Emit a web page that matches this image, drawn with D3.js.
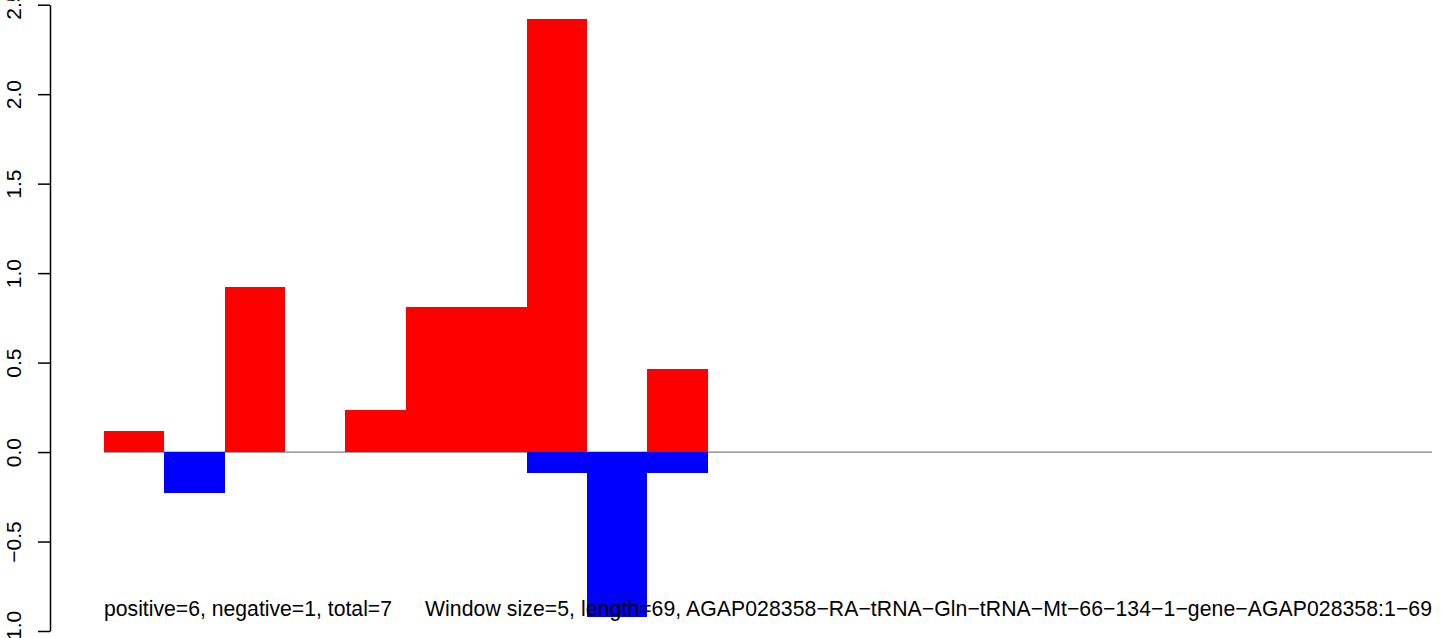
<!DOCTYPE html>
<html>
<head>
<meta charset="utf-8">
<script src="https://cdn.jsdelivr.net/npm/d3@7"></script>
<style>
  html, body { margin: 0; padding: 0; background: #fff; }
  svg { display: block; font-family: "Liberation Sans", Arial, Helvetica, sans-serif; }
</style>
</head>
<body>
<svg id="chart" width="1444" height="638"></svg>
<script>
// ---- data ----
const windows = [1, 2, 3, 4, 5, 6, 7, 8, 9, 10];
const positiveValues = [0.117, 0, 0.924, 0, 0.235, 0.812, 0.812, 2.42, 0, 0.464];
const negativeValues = [0, -0.228, 0, 0, 0, 0, 0, -0.116, -0.92, -0.116];
const yTicks = [-1.0, -0.5, 0.0, 0.5, 1.0, 1.5, 2.0, 2.5];
const xSlots = 22;
const summaryText = "positive=6, negative=1, total=7";
const infoText = "Window size=5, length=69, AGAP028358\u2212RA\u2212tRNA\u2212Gln\u2212tRNA\u2212Mt\u221266\u2212134\u22121\u2212gene\u2212AGAP028358:1\u221269";

// ---- layout ----
const svg = d3.select("#chart");
const x = d3.scaleLinear().domain([0, xSlots]).range([104, 1432]);
const y = d3.scaleLinear().domain([-1.0, 2.5]).range([631, 4.7]);

// zero line
svg.append("line")
  .attr("x1", x(0)).attr("x2", x(xSlots))
  .attr("y1", y(0)).attr("y2", y(0))
  .attr("stroke", "#808080").attr("stroke-width", 1.2);

// positive bars
svg.append("g").attr("shape-rendering", "crispEdges").selectAll("rect")
  .data(windows.map((w, i) => ({w, v: positiveValues[i]})).filter(d => d.v > 0))
  .join("rect")
  .attr("x", d => x(d.w - 1))
  .attr("width", d => x(d.w) - x(d.w - 1))
  .attr("y", d => y(d.v))
  .attr("height", d => y(0) - y(d.v))
  .attr("fill", "#ff0000");

// negative bars
svg.append("g").attr("shape-rendering", "crispEdges").selectAll("rect")
  .data(windows.map((w, i) => ({w, v: negativeValues[i]})).filter(d => d.v < 0))
  .join("rect")
  .attr("x", d => x(d.w - 1))
  .attr("width", d => x(d.w) - x(d.w - 1))
  .attr("y", y(0))
  .attr("height", d => y(d.v) - y(0))
  .attr("fill", "#0000ff");

// y axis
const axis = d3.axisLeft(y).tickValues(yTicks).tickSize(12).tickSizeOuter(0).tickFormat(d3.format(".1f"));
const gAxis = svg.append("g").attr("transform", "translate(50,0)").call(axis);
gAxis.select(".domain").attr("stroke", "#000").attr("stroke-width", 1.5);
gAxis.selectAll(".tick line").attr("stroke", "#000").attr("stroke-width", 1.5);
gAxis.selectAll(".tick text")
  .attr("font-size", 21)
  .attr("fill", "#000")
  .attr("x", 0).attr("dy", null)
  .attr("text-anchor", "middle")
  .attr("transform", "translate(-29,0) rotate(-90)");

// texts
svg.append("text")
  .attr("x", 104).attr("y", 616)
  .attr("font-size", 21.2).attr("fill", "#000")
  .text(summaryText);
svg.append("text")
  .attr("x", 425).attr("y", 616)
  .attr("font-size", 21.2).attr("fill", "#000")
  .attr("textLength", 1007).attr("lengthAdjust", "spacing")
  .text(infoText);
</script>
</body>
</html>
